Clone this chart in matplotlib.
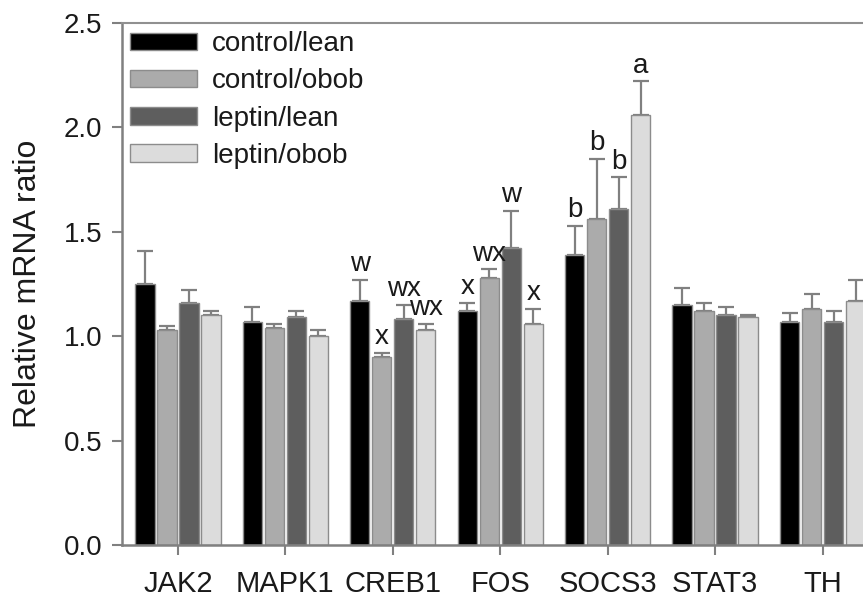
import matplotlib
matplotlib.use("Agg")
import matplotlib.pyplot as plt
import numpy as np

plt.rcParams['font.family'] = ['Liberation Sans', 'DejaVu Sans']

genes = ["JAK2", "MAPK1", "CREB1", "FOS", "SOCS3", "STAT3", "TH"]
groups = ["control/lean", "control/obob", "leptin/lean", "leptin/obob"]

control_lean = [1.25, 1.07, 1.17, 1.12, 1.39, 1.15, 1.07]
control_obob = [1.03, 1.04, 0.90, 1.28, 1.56, 1.12, 1.13]
leptin_lean = [1.16, 1.09, 1.08, 1.42, 1.61, 1.10, 1.07]
leptin_obob = [1.10, 1.00, 1.03, 1.06, 2.06, 1.09, 1.17]

control_lean_err = [0.16, 0.07, 0.10, 0.04, 0.14, 0.08, 0.04]
control_obob_err = [0.02, 0.02, 0.02, 0.04, 0.29, 0.04, 0.07]
leptin_lean_err = [0.06, 0.03, 0.07, 0.18, 0.15, 0.04, 0.05]
leptin_obob_err = [0.02, 0.03, 0.03, 0.07, 0.16, 0.01, 0.10]

# significance letters per bar (gene, group index, letter)
letters = [
    ("CREB1", 0, "w"), ("CREB1", 1, "x"), ("CREB1", 2, "wx"), ("CREB1", 3, "wx"),
    ("FOS", 0, "x"), ("FOS", 1, "wx"), ("FOS", 2, "w"), ("FOS", 3, "x"),
    ("SOCS3", 0, "b"), ("SOCS3", 1, "b"), ("SOCS3", 2, "b"), ("SOCS3", 3, "a"),
]

values = [control_lean, control_obob, leptin_lean, leptin_obob]
errors = [control_lean_err, control_obob_err, leptin_lean_err, leptin_obob_err]
colors = ["#000000", "#ababab", "#5e5e5e", "#dcdcdc"]
text_color = "#1a1a1a"

fig = plt.figure(figsize=(8.63, 5.98), dpi=100)
ax = fig.add_axes([0.1414, 0.0886, 0.874, 0.873])

x = np.arange(len(genes))
step = 0.205
width = 0.18
for i, (vals, errs, col) in enumerate(zip(values, errors, colors)):
    pos = x + (i - 1.5) * step
    ax.bar(pos, vals, width, color=col, edgecolor="#8c8c8c", linewidth=1.0,
           label=groups[i], zorder=2)
    ax.errorbar(pos, vals, yerr=[np.zeros(len(vals)), errs], fmt="none",
                ecolor="#808080", elinewidth=1.6, capsize=6, capthick=1.6, zorder=1)

for gene, gi, txt in letters:
    k = genes.index(gene)
    xp = k + (gi - 1.5) * step
    top = values[gi][k] + errors[gi][k]
    ax.annotate(txt, (xp, top), xytext=(0, 2), textcoords="offset points",
                ha="center", va="bottom", fontsize=20, color=text_color)

ax.set_xlim(-0.52, 6.5)
ax.set_ylim(0, 2.5)
ax.set_yticks([0.0, 0.5, 1.0, 1.5, 2.0, 2.5])
ax.set_yticklabels(["0.0", "0.5", "1.0", "1.5", "2.0", "2.5"], fontsize=20, color=text_color)
ax.set_xticks(x)
ax.set_xticklabels(genes, fontsize=21, color=text_color)
ax.tick_params(axis="both", direction="out", color="#808080", width=1.5, length=7)
ax.tick_params(axis="x", pad=11)
ax.tick_params(axis="y", pad=7)
ax.set_ylabel("Relative mRNA ratio", fontsize=23, color=text_color, labelpad=15)

for side in ["left", "bottom"]:
    ax.spines[side].set_color("#808080")
    ax.spines[side].set_linewidth(1.8)
ax.spines["top"].set_color("#909090")
ax.spines["top"].set_linestyle((0, (1, 1)))
ax.spines["top"].set_linewidth(1.5)
ax.spines["right"].set_visible(False)

leg = ax.legend(loc="upper left", frameon=False, fontsize=20, handlelength=2.4,
                handleheight=0.6, handletextpad=0.55, labelspacing=0.4,
                borderaxespad=0.0, borderpad=0.3, bbox_to_anchor=(0.0, 1.0))
for t in leg.get_texts():
    t.set_color(text_color)

fig.savefig("out.png", dpi=100)
